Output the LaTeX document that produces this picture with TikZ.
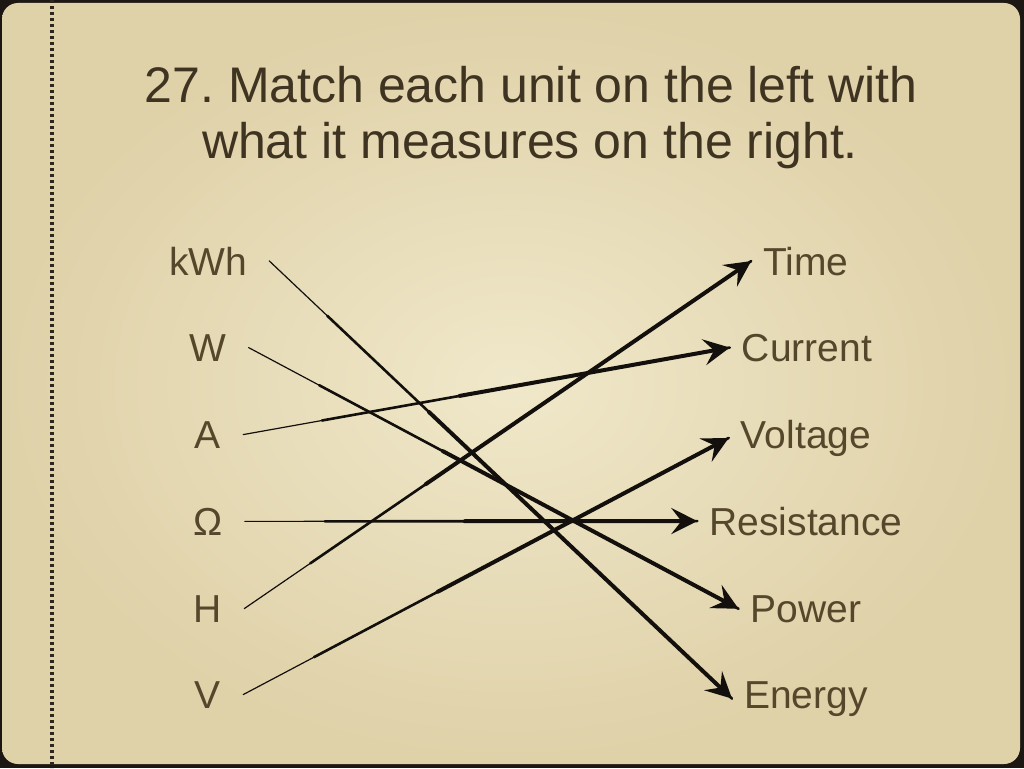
\documentclass[tikz,border=0pt]{standalone}
\usepackage{fontspec}
\setmainfont{Liberation Sans}
\usetikzlibrary{arrows.meta}

\definecolor{paper}{HTML}{F0E8CA}
\definecolor{paperedge}{HTML}{DFD1A8}
\definecolor{frame}{HTML}{1C1712}
\definecolor{ink}{HTML}{120F0C}
\definecolor{dotgray}{HTML}{2E261C}
\definecolor{labeltext}{HTML}{55472B}
\definecolor{titletext}{HTML}{3F3421}

\tikzset{
  heading/.style={text=titletext, font=\fontsize{50}{57}\selectfont, anchor=base},
  unit/.style={text=labeltext, font=\fontsize{39}{44}\selectfont, inner xsep=22pt, anchor=base},
  quantity/.style={text=labeltext, font=\fontsize{39}{44}\selectfont, inner xsep=12pt, anchor=base},
  match/.style={draw=ink, line width=1.2pt, line cap=round,
    postaction={draw=ink, line width=2.6pt, shorten <=80pt},
    postaction={draw=ink, line width=4pt, shorten <=220pt,
      -{Stealth[length=26pt, width=26pt, inset=10pt]}}},
}

\begin{document}
\frenchspacing
\begin{tikzpicture}[x=1pt, y=-1pt]

\useasboundingbox (0,0) rectangle (1024,768);
\fill[frame] (0,0) rectangle (1024,768);
\shade[rounded corners=16pt, inner color=paper, outer color=paperedge] (2,3) rectangle (1020,764);
\draw[dotgray, line width=3.5pt, dash pattern=on 3pt off 3pt] (52,0) -- (52,768);

\node (titletop) [heading] at (531,102) {27. Match each unit on the left with};
\node (titlebottom) [heading] at (530,158) {what it measures on the right.};

% units
\node (kwh) [unit] at (208,275) {kWh};
\node (watt) [unit] at (208,361) {W};
\node (amp) [unit] at (208,448) {A};
\node (ohm) [unit] at (208,535) {Ω};
\node (henry) [unit] at (208,622) {H};
\node (volt) [unit] at (208,708) {V};

% quantities
\node (time) [quantity] at (806,275) {Time};
\node (current) [quantity] at (807,361) {Current};
\node (voltage) [quantity] at (806,448) {Voltage};
\node (resistance) [quantity] at (806,535) {Resistance};
\node (power) [quantity] at (806,622) {Power};
\node (energy) [quantity] at (806,708) {Energy};

\draw[match] (kwh.east) -- (energy.west);
\draw[match] (watt.east) -- (power.west);
\draw[match] (amp.east) -- (current.west);
\draw[match] (ohm.east) -- (resistance.west);
\draw[match] (henry.east) -- (time.west);
\draw[match] (volt.east) -- (voltage.west);

\end{tikzpicture}
\end{document}
